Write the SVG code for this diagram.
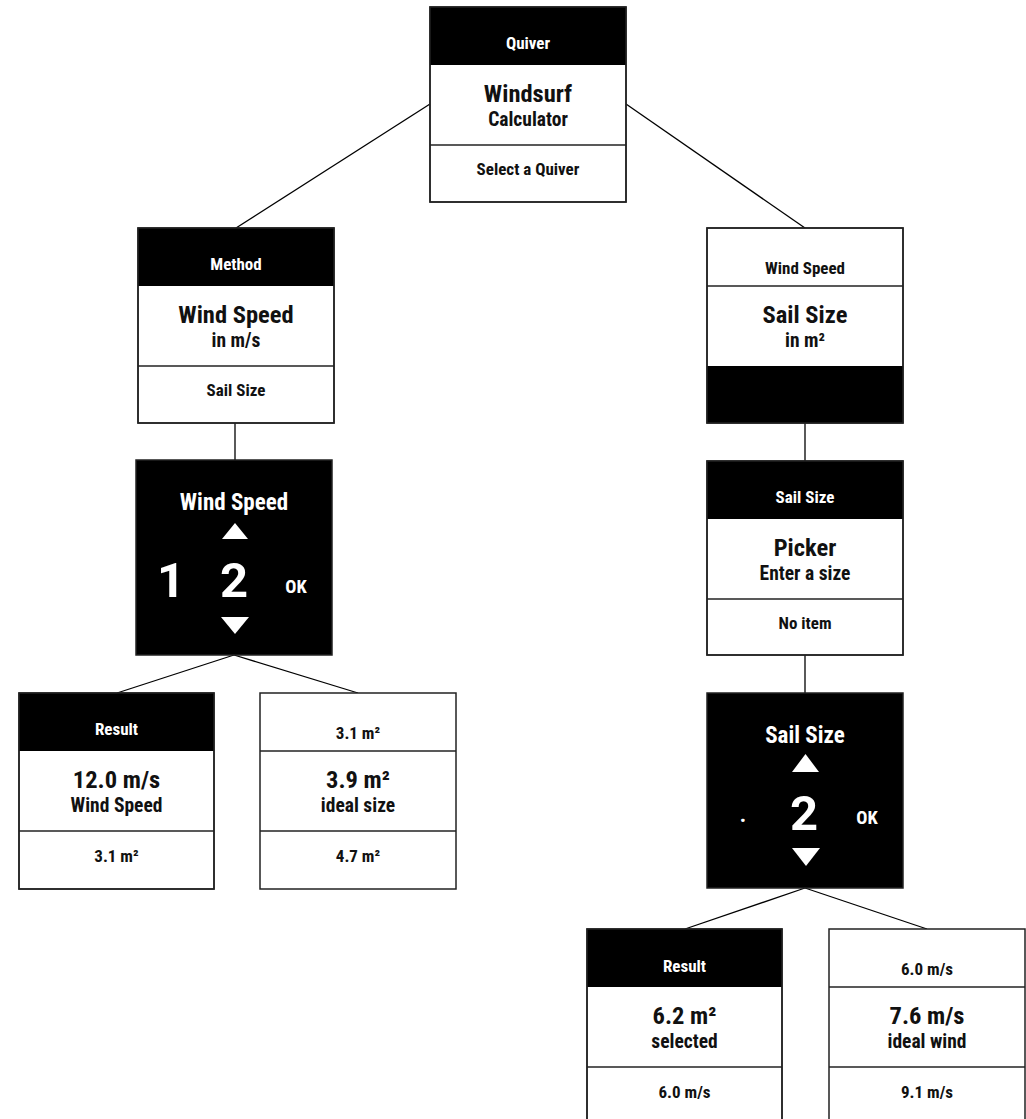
<svg xmlns="http://www.w3.org/2000/svg" width="1026" height="1119" viewBox="0 0 1026 1119">
<style>
.box{fill:#fff;stroke:#222;stroke-width:1.5}
.blk{fill:#000;stroke:#222;stroke-width:1.5}
.hb{fill:#000}
.dv{stroke:#222;stroke-width:1.5}
.fr{fill:none;stroke:#222;stroke-width:1.5}
.cn{stroke:#000;stroke-width:1.3;fill:none}
text{font-family:"Roboto Condensed","Liberation Sans Narrow",Roboto,sans-serif;font-weight:700;text-anchor:middle}
.hw{font-size:17px;fill:#fff}
.hk{font-size:17px;fill:#111}
.t1{font-size:24.5px;fill:#111}
.t2{font-size:19.5px;fill:#111}
.ft{font-size:17px;fill:#111}
.pt{font-size:23px;fill:#fff}
.dg{font-size:49px;fill:#fff;font-family:Roboto,sans-serif}
.ok{font-size:18.5px;fill:#fff}
.dot{font-size:22px;fill:#fff}
.tri{fill:#fff}
</style>
<rect width="1026" height="1119" fill="#fff"/>
<g id="connectors">
<line class="cn" x1="430" y1="104" x2="236" y2="228"/>
<line class="cn" x1="626" y1="104" x2="805" y2="228"/>
<line class="cn" x1="235" y1="423" x2="235" y2="460"/>
<line class="cn" x1="234" y1="655" x2="117" y2="693"/>
<line class="cn" x1="234" y1="655" x2="358" y2="693"/>
<line class="cn" x1="805" y1="423" x2="805" y2="461"/>
<line class="cn" x1="805" y1="655" x2="805" y2="693"/>
<line class="cn" x1="805" y1="888" x2="685" y2="929"/>
<line class="cn" x1="805" y1="888" x2="927" y2="929"/>
</g>
<g id="node-quiver">
<rect class="box" x="430" y="7" width="196" height="195"/>
<rect class="hb" x="430" y="7" width="196" height="58"/>
<line class="dv" x1="430" y1="145" x2="626" y2="145"/>
<rect class="fr" x="430" y="7" width="196" height="195"/>
<text class="hw" x="528" y="49">Quiver</text>
<text class="t1" x="528" y="102">Windsurf</text>
<text class="t2" x="528" y="126">Calculator</text>
<text class="ft" x="528" y="175">Select a Quiver</text>
</g>
<g id="node-method">
<rect class="box" x="138" y="228" width="196" height="195"/>
<rect class="hb" x="138" y="228" width="196" height="58"/>
<line class="dv" x1="138" y1="366" x2="334" y2="366"/>
<rect class="fr" x="138" y="228" width="196" height="195"/>
<text class="hw" x="236" y="270">Method</text>
<text class="t1" x="236" y="323">Wind Speed</text>
<text class="t2" x="236" y="347">in m/s</text>
<text class="ft" x="236" y="396">Sail Size</text>
</g>
<g id="node-wind-picker">
<rect class="blk" x="136" y="460" width="196" height="195"/>
<text class="pt" x="234" y="510">Wind Speed</text>
<polygon class="tri" points="222,539 248,539 235,523"/>
<text class="dg" x="171" y="597">1</text>
<text class="dg" x="234" y="597">2</text>
<text class="ok" x="296" y="593">OK</text>
<polygon class="tri" points="221,617 249,617 235,634"/>
</g>
<g id="node-result-wind">
<rect class="box" x="19" y="693" width="195" height="196"/>
<rect class="hb" x="19" y="693" width="195" height="58"/>
<line class="dv" x1="19" y1="831" x2="214" y2="831"/>
<rect class="fr" x="19" y="693" width="195" height="196"/>
<text class="hw" x="116.5" y="735">Result</text>
<text class="t1" x="116.5" y="788">12.0 m/s</text>
<text class="t2" x="116.5" y="812">Wind Speed</text>
<text class="ft" x="116.5" y="862">3.1 m²</text>
</g>
<g id="node-ideal-size">
<rect class="box" x="260" y="693" width="196" height="196"/>
<line class="dv" x1="260" y1="751" x2="456" y2="751"/>
<line class="dv" x1="260" y1="831" x2="456" y2="831"/>
<text class="hk" x="358" y="739">3.1 m²</text>
<text class="t1" x="358" y="788">3.9 m²</text>
<text class="t2" x="358" y="812">ideal size</text>
<text class="ft" x="358" y="862">4.7 m²</text>
</g>
<g id="node-sailsize-input">
<rect class="box" x="707" y="228" width="196" height="195"/>
<rect class="hb" x="707" y="366" width="196" height="57"/>
<line class="dv" x1="707" y1="286" x2="903" y2="286"/>
<rect class="fr" x="707" y="228" width="196" height="195"/>
<text class="hk" x="805" y="274">Wind Speed</text>
<text class="t1" x="805" y="323">Sail Size</text>
<text class="t2" x="805" y="347">in m²</text>
</g>
<g id="node-sailsize-menu">
<rect class="box" x="707" y="461" width="196" height="194"/>
<rect class="hb" x="707" y="461" width="196" height="58"/>
<line class="dv" x1="707" y1="599" x2="903" y2="599"/>
<rect class="fr" x="707" y="461" width="196" height="194"/>
<text class="hw" x="805" y="503">Sail Size</text>
<text class="t1" x="805" y="556">Picker</text>
<text class="t2" x="805" y="580">Enter a size</text>
<text class="ft" x="805" y="629">No item</text>
</g>
<g id="node-sail-picker">
<rect class="blk" x="707" y="693" width="196" height="195"/>
<text class="pt" x="805" y="743">Sail Size</text>
<polygon class="tri" points="792,772 819,772 805.5,754"/>
<text class="dot" x="743" y="822">.</text>
<text class="dg" x="804" y="830">2</text>
<text class="ok" x="867" y="824">OK</text>
<polygon class="tri" points="792,848 820,848 806,866"/>
</g>
<g id="node-result-sail">
<rect class="box" x="587" y="929" width="195" height="196"/>
<rect class="hb" x="587" y="929" width="195" height="58"/>
<line class="dv" x1="587" y1="1067" x2="782" y2="1067"/>
<rect class="fr" x="587" y="929" width="195" height="196"/>
<text class="hw" x="684.5" y="972">Result</text>
<text class="t1" x="684.5" y="1024">6.2 m²</text>
<text class="t2" x="684.5" y="1048">selected</text>
<text class="ft" x="684.5" y="1098">6.0 m/s</text>
</g>
<g id="node-ideal-wind">
<rect class="box" x="829" y="929" width="196" height="196"/>
<line class="dv" x1="829" y1="987" x2="1025" y2="987"/>
<line class="dv" x1="829" y1="1067" x2="1025" y2="1067"/>
<text class="hk" x="927" y="975">6.0 m/s</text>
<text class="t1" x="927" y="1024">7.6 m/s</text>
<text class="t2" x="927" y="1048">ideal wind</text>
<text class="ft" x="927" y="1098">9.1 m/s</text>
</g>
</svg>
